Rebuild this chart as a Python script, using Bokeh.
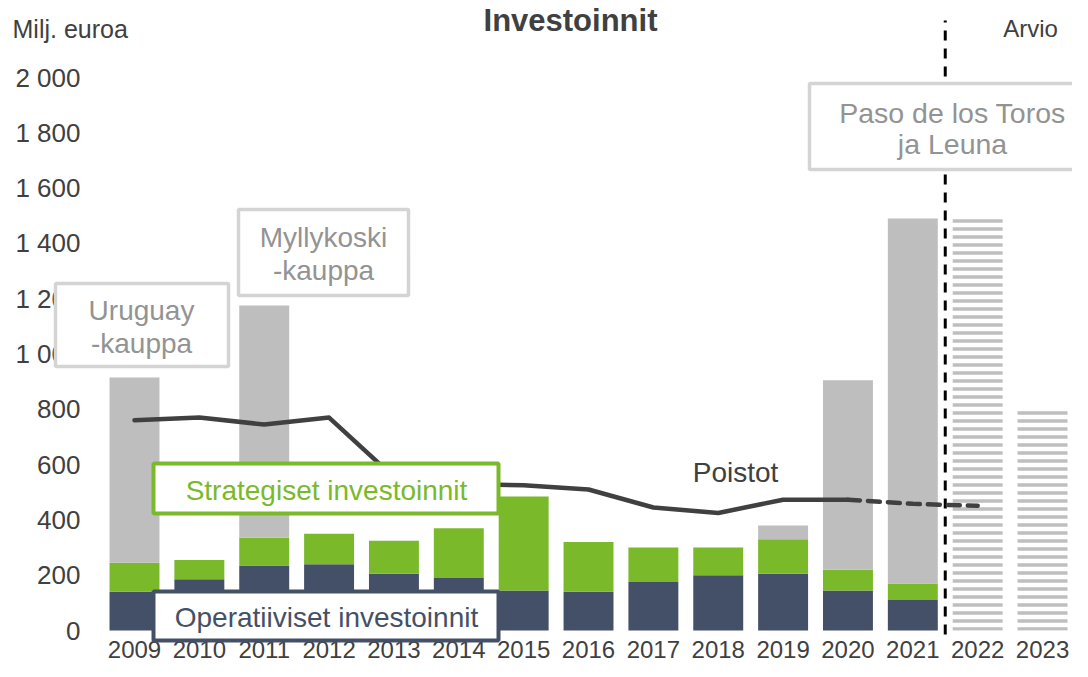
import numpy as np
from bokeh.plotting import figure
from bokeh.models import BoxAnnotation, Label, FixedTicker, Range1d, ColumnDataSource
from bokeh.embed import file_html
from bokeh.resources import INLINE

# ---------------- data ----------------
years = [2009, 2010, 2011, 2012, 2013, 2014, 2015, 2016, 2017, 2018, 2019, 2020, 2021]
operative = [140, 185, 235, 240, 205, 190, 145, 140, 175, 200, 205, 145, 110]
strategic = [105, 70, 100, 110, 120, 180, 340, 180, 125, 100, 125, 75, 60]
acquisitions = [670, 0, 840, 0, 0, 0, 0, 0, 0, 0, 50, 685, 1320]

estimate_years = [2022, 2023]
estimate = [1500, 800]

dep_years = [2009, 2010, 2011, 2012, 2013, 2014, 2015, 2016, 2017, 2018, 2019, 2020, 2021, 2022]
depreciation = [760, 770, 745, 770, 555, 530, 525, 510, 445, 425, 473, 473, 458, 451]
dep_actual_count = 12  # 2009-2020 solid, 2020-2022 dashed

y_ticks = [0, 200, 400, 600, 800, 1000, 1200, 1400, 1600, 1800, 2000]
y_tick_labels = ["0", "200", "400", "600", "800", "1 000", "1 200", "1 400", "1 600", "1 800", "2 000"]
x_ticks = years + estimate_years
x_tick_labels = [str(y) for y in x_ticks]

# ---------------- styles ----------------
FONT = "Liberation Sans"
NAVY = "#445068"
GREEN = "#7AB929"
GREY = "#BEBEBE"
DARK = "#404040"
BOXGREY = "#D4D4D4"
TXTGREY = "#939393"

W, H = 1072, 661
X0, XS = 134.0, 64.86      # pixel of first year, pixels per year
Y0, YS = 630.0, 0.2765     # pixel of zero, pixels per unit


def px_x(px):
    return 2009 + (px - X0) / XS


def px_y(py):
    return (Y0 - py) / YS


p = figure(width=W, height=H, output_backend="svg", toolbar_location=None,
           x_range=Range1d(px_x(0), px_x(W)), y_range=Range1d(px_y(H), px_y(0)),
           min_border=0, min_border_left=0, min_border_right=0,
           min_border_top=0, min_border_bottom=0)
p.outline_line_color = None
p.xgrid.visible = False
p.ygrid.visible = False
p.background_fill_color = "white"
p.border_fill_color = "white"

op = np.array(operative, dtype=float)
st = np.array(strategic, dtype=float)
aq = np.array(acquisitions, dtype=float)

src = ColumnDataSource(dict(x=years, op_top=op, st_bot=op, st_top=op + st,
                            aq_bot=op + st, aq_top=op + st + aq))
BW = 0.77
p.vbar(x="x", bottom=0, top="op_top", width=BW, source=src, fill_color=NAVY, line_color=None)
p.vbar(x="x", bottom="st_bot", top="st_top", width=BW, source=src, fill_color=GREEN, line_color=None)
p.vbar(x="x", bottom="aq_bot", top="aq_top", width=BW, source=src, fill_color=GREY, line_color=None)

p.vbar(x=estimate_years, bottom=0, top=estimate, width=BW, fill_color="white", fill_alpha=0,
       line_color=None, hatch_pattern="horizontal_line", hatch_color=GREY,
       hatch_scale=8, hatch_weight=3.5)

# vertical dashed separator
p.segment(x0=[2021.5], y0=[px_y(634)], x1=[2021.5], y1=[px_y(20)], line_color="black",
          line_width=3, line_dash="10 8")

# depreciation line
p.line(dep_years[:dep_actual_count], depreciation[:dep_actual_count], line_color=DARK,
       line_width=4.5, line_join="round", line_cap="round")
p.line(dep_years[dep_actual_count - 1:], depreciation[dep_actual_count - 1:], line_color=DARK,
       line_width=4.5, line_dash="12 8", line_cap="round")

# axes
xa = p.xaxis[0]
xa.fixed_location = 0
xa.ticker = FixedTicker(ticks=x_ticks)
xa.major_label_overrides = {t: l for t, l in zip(x_ticks, x_tick_labels)}
xa.axis_line_color = None
xa.major_tick_line_color = None
xa.minor_tick_line_color = None
xa.major_tick_out = 0
xa.major_tick_in = 0
xa.major_label_standoff = 10
xa.major_label_text_font = FONT
xa.major_label_text_font_size = "24px"
xa.major_label_text_color = DARK

ya = p.yaxis[0]
ya.fixed_location = px_x(101)
ya.ticker = FixedTicker(ticks=y_ticks)
ya.major_label_overrides = {t: l for t, l in zip(y_ticks, y_tick_labels)}
ya.axis_line_color = None
ya.major_tick_line_color = None
ya.minor_tick_line_color = None
ya.major_tick_out = 0
ya.major_tick_in = 0
ya.major_label_standoff = 21
ya.major_label_text_font = FONT
ya.major_label_text_font_size = "26px"
ya.major_label_text_color = DARK


def box(x0, x1, y0, y1, color, lw):
    p.add_layout(BoxAnnotation(left=px_x(x0), right=px_x(x1), top=px_y(y0), bottom=px_y(y1),
                               fill_color="white", fill_alpha=1.0, line_color=color,
                               line_alpha=1.0, line_width=lw, level="annotation"))


def label(text, x, y, size, color, align="center", style="normal"):
    p.add_layout(Label(x=px_x(x), y=px_y(y), text=text, text_align=align, text_baseline="middle",
                       text_font=FONT, text_font_size=size, text_color=color,
                       text_font_style=style))


box(55, 228, 283, 366, BOXGREY, 3.5)
box(238, 408, 209, 295, BOXGREY, 3.5)
box(809, 1100, 83, 169, BOXGREY, 3.5)
box(153, 498, 463, 513, GREEN, 4)
box(153, 498, 591, 640, NAVY, 4)

label("Uruguay", 141, 310, "28px", TXTGREY)
label("-kauppa", 141, 343, "28px", TXTGREY)
label("Myllykoski", 323, 237, "28px", TXTGREY)
label("-kauppa", 323, 270, "28px", TXTGREY)
label("Paso de los Toros", 952, 112, "28.5px", TXTGREY)
label("ja Leuna", 952, 143, "28.5px", TXTGREY)
label("Strategiset investoinnit", 326, 490, "28px", GREEN)
label("Operatiiviset investoinnit", 326, 617, "28px", NAVY)
label("Poistot", 735, 472, "28px", DARK)
label("Investoinnit", 570, 20, "31px", DARK, style="bold")
label("Milj. euroa", 12, 28, "25px", DARK, align="left")
label("Arvio", 1030, 28, "24px", DARK)

open("out.html", "w").write(file_html(p, INLINE))
